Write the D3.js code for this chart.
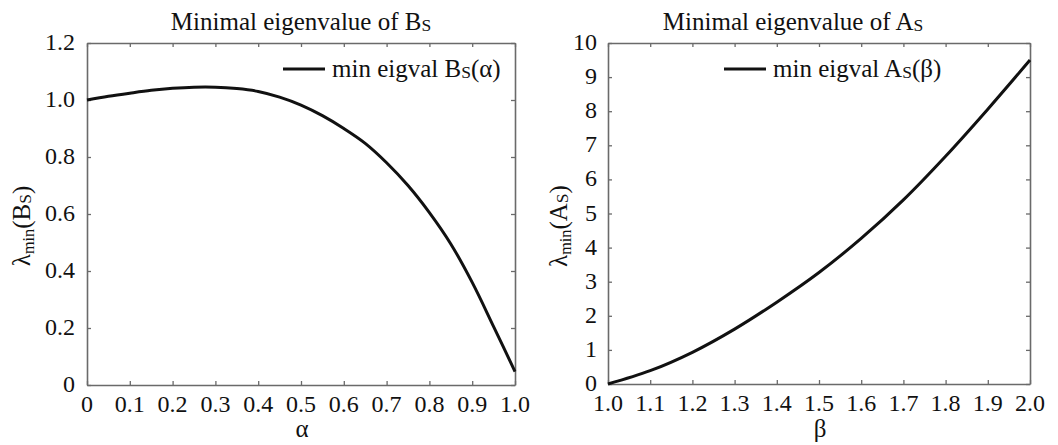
<!DOCTYPE html>
<html><head><meta charset="utf-8">
<script src="https://cdn.jsdelivr.net/npm/d3@7"></script>
<style>
body{margin:0;background:#fff;}
</style></head>
<body>
<svg id="c" width="1058" height="445"></svg>
<script>
// Left panel data: minimal eigenvalue of B_S vs alpha
const alphaVals = [0,0.05,0.10,0.15,0.20,0.25,0.30,0.35,0.40,0.45,0.50,0.55,0.60,0.65,0.70,0.75,0.80,0.85,0.90,0.95,1.00];
const bsVals    = [1.000,1.013,1.024,1.034,1.041,1.045,1.045,1.040,1.030,1.010,0.982,0.945,0.900,0.848,0.780,0.700,0.605,0.495,0.360,0.205,0.047];
// Right panel data: minimal eigenvalue of A_S vs beta
const betaVals  = [1.0,1.1,1.2,1.3,1.4,1.5,1.6,1.7,1.8,1.9,2.0];
const asVals    = [0.00,0.39,0.93,1.61,2.40,3.27,4.27,5.40,6.68,8.06,9.50];
// Tick labels
const leftXTicks  = [0,0.1,0.2,0.3,0.4,0.5,0.6,0.7,0.8,0.9,1.0];
const leftXLabels = ["0","0.1","0.2","0.3","0.4","0.5","0.6","0.7","0.8","0.9","1.0"];
const leftYTicks  = [0,0.2,0.4,0.6,0.8,1.0,1.2];
const leftYLabels = ["0","0.2","0.4","0.6","0.8","1.0","1.2"];
const rightXTicks  = [1.0,1.1,1.2,1.3,1.4,1.5,1.6,1.7,1.8,1.9,2.0];
const rightXLabels = ["1.0","1.1","1.2","1.3","1.4","1.5","1.6","1.7","1.8","1.9","2.0"];
const rightYTicks  = [0,1,2,3,4,5,6,7,8,9,10];
const rightYLabels = ["0","1","2","3","4","5","6","7","8","9","10"];

const svg = d3.select("#c");
const FONT = "'Liberation Serif','Times New Roman',serif";
const FT = 24;   // tick label size
const FL = 25;   // title / legend / axis label size

function txt(sel, size){
  return sel.append("text").style("font-family",FONT).style("font-size",size+"px").style("fill","#111");
}

function panel(o){
  const x = d3.scaleLinear().domain(o.xdom).range([o.x0,o.x1]);
  const y = d3.scaleLinear().domain(o.ydom).range([o.y1,o.y0]);
  const g = svg.append("g");
  const axCol = "#6a6a6a";
  const mk = (axis, tr) => {
    const a = g.append("g").attr("transform",tr).call(axis);
    a.select(".domain").attr("stroke",axCol).attr("stroke-width",1.6);
    a.selectAll(".tick line").attr("stroke",axCol).attr("stroke-width",1.3);
    a.selectAll(".tick text").remove();
    return a;
  };
  mk(d3.axisBottom(x).tickValues(o.xt).tickSize(-4).tickSizeOuter(0), `translate(0,${o.y1})`);
  mk(d3.axisTop(x).tickValues(o.xt).tickSize(-4).tickSizeOuter(0), `translate(0,${o.y0})`);
  mk(d3.axisLeft(y).tickValues(o.yt).tickSize(-4).tickSizeOuter(0), `translate(${o.x0},0)`);
  mk(d3.axisRight(y).tickValues(o.yt).tickSize(-4).tickSizeOuter(0), `translate(${o.x1},0)`);
  o.xt.forEach((d,i)=>{
    txt(g,FT).attr("x",x(d)).attr("y",o.y1+27).attr("text-anchor","middle").text(o.xl[i]);
  });
  o.yt.forEach((d,i)=>{
    txt(g,FT).attr("x",o.x0-o.ygap).attr("y",y(d)+7).attr("text-anchor","end").text(o.yl[i]);
  });
  const pts = o.xs.map((v,i)=>[v,o.ys[i]]);
  g.append("path").datum(pts)
    .attr("d", d3.line().x(d=>x(d[0])).y(d=>y(d[1])).curve(d3.curveCatmullRom))
    .attr("fill","none").attr("stroke","#111").attr("stroke-width",3);
  const t = txt(g,FL).attr("x",o.tx).attr("y",30).attr("text-anchor","middle");
  t.append("tspan").text("Minimal eigenvalue of "+o.mat);
  t.append("tspan").style("font-size",(FL*0.7)+"px").attr("dy",1).text("S");
  g.append("line").attr("x1",o.lx).attr("x2",o.lx+42).attr("y1",69).attr("y2",69)
    .attr("stroke","#111").attr("stroke-width",3);
  const lt = txt(g,FL).attr("x",o.lx+49).attr("y",77);
  lt.append("tspan").text("min eigval "+o.mat);
  lt.append("tspan").style("font-size",(FL*0.7)+"px").attr("dy",1).text("S");
  lt.append("tspan").attr("dy",-1).text("("+o.sym+")");
  txt(g,FL).attr("x",(o.x0+o.x1)/2+1).attr("y",437).attr("text-anchor","middle").text(o.sym);
  const yl = txt(g,FL).attr("transform",`translate(${o.ylx},226) rotate(-90)`)
    .attr("text-anchor","middle");
  yl.append("tspan").text("λ");
  yl.append("tspan").style("font-size",(FL*0.65)+"px").attr("dy",4).text("min");
  yl.append("tspan").attr("dy",-4).text("("+o.mat);
  yl.append("tspan").style("font-size",(FL*0.7)+"px").attr("dy",1).text("S");
  yl.append("tspan").attr("dy",-1).text(")");
}

panel({x0:87,x1:515,y0:43,y1:385,xdom:[0,1],ydom:[0,1.2],
  xt:leftXTicks,xl:leftXLabels,yt:leftYTicks,yl:leftYLabels,ygap:12,
  xs:alphaVals,ys:bsVals,mat:"B",sym:"α",tx:301,lx:283,ylx:30});
panel({x0:608,x1:1030,y0:43,y1:384,xdom:[1,2],ydom:[0,10],
  xt:rightXTicks,xl:rightXLabels,yt:rightYTicks,yl:rightYLabels,ygap:11,
  xs:betaVals,ys:asVals,mat:"A",sym:"β",tx:793,lx:724,ylx:567});
</script>
</body></html>
